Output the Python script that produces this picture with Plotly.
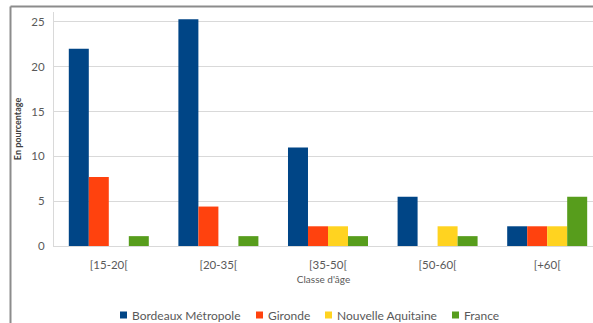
import plotly.graph_objects as go

# Age classes and share (%) of each area
categories = ["[15-20[", "[20-35[", "[35-50[", "[50-60[", "[+60["]
bordeaux_metropole = [22.0, 25.3, 11.0, 5.5, 2.2]
gironde = [7.7, 4.4, 2.2, 0.0, 2.2]
nouvelle_aquitaine = [0.0, 0.0, 2.2, 2.2, 2.2]
france = [1.1, 1.1, 1.1, 1.1, 5.5]

series = [
    ("Bordeaux Métropole", bordeaux_metropole, "#004586"),
    ("Gironde", gironde, "#ff420e"),
    ("Nouvelle Aquitaine", nouvelle_aquitaine, "#ffd320"),
    ("France", france, "#579d1c"),
]

FONT = "Lato"
TXT = "#595959"
W, H = 593, 323
ML, MT, MB = 54, 12, 77
PW = W - ML
PH = H - MT - MB


def px_x(p):
    return (p - ML) / PW


def px_y(p):
    return (H - MB - p) / PH


fig = go.Figure()
for name, vals, col in series:
    fig.add_trace(go.Bar(x=categories, y=vals, name=name, marker_color=col,
                         marker_line_width=0, showlegend=False))

# legend row: square key + label
legend_x = [120, 256, 325, 452]
shapes = []
annotations = []
for (name, _, col), lx in zip(series, legend_x):
    shapes.append(dict(type="rect", xref="paper", yref="paper",
                       x0=px_x(lx), x1=px_x(lx + 7), y0=px_y(318.5), y1=px_y(311.5),
                       fillcolor=col, line=dict(width=0)))
    annotations.append(dict(text=name, xref="paper", yref="paper", x=px_x(lx + 9.5),
                            y=px_y(315), xanchor="left", yanchor="middle", showarrow=False,
                            font=dict(family=FONT, size=12, color=TXT)))

# chart frame (top and left edges)
shapes += [
    dict(type="line", xref="paper", yref="paper", x0=px_x(10.5), x1=px_x(W + 5),
         y0=px_y(6.5), y1=px_y(6.5), line=dict(color="#8c8c8c", width=2)),
    dict(type="line", xref="paper", yref="paper", x0=px_x(10.5), x1=px_x(10.5),
         y0=px_y(6.5), y1=px_y(H + 5), line=dict(color="#8c8c8c", width=2)),
]

fig.update_layout(
    width=W, height=H,
    margin=dict(l=ML, r=0, t=MT, b=MB),
    paper_bgcolor="white", plot_bgcolor="white",
    barmode="group", bargap=0.27, bargroupgap=0,
    showlegend=False,
    font=dict(family=FONT, size=11, color=TXT),
    xaxis=dict(range=[-0.5, 4.418], showgrid=False, showline=True, linecolor="#d9d9d9",
               ticks="", tickfont=dict(size=11.5, color=TXT), ticklabelstandoff=8,
               title=dict(text="Classe d'âge", font=dict(size=10, color=TXT), standoff=6)),
    yaxis=dict(range=[0, 26.1], tickvals=[0, 5, 10, 15, 20, 25], showgrid=True,
               gridcolor="#d9d9d9", showline=True, linecolor="#d9d9d9", zeroline=False,
               ticks="", tickfont=dict(size=11.5, color=TXT), ticklabelstandoff=6,
               title=dict(text="<b>En pourcentage</b>", font=dict(size=9, color="#404040"),
                          standoff=8)),
    shapes=shapes,
    annotations=annotations,
)

fig.write_html("out.html")
